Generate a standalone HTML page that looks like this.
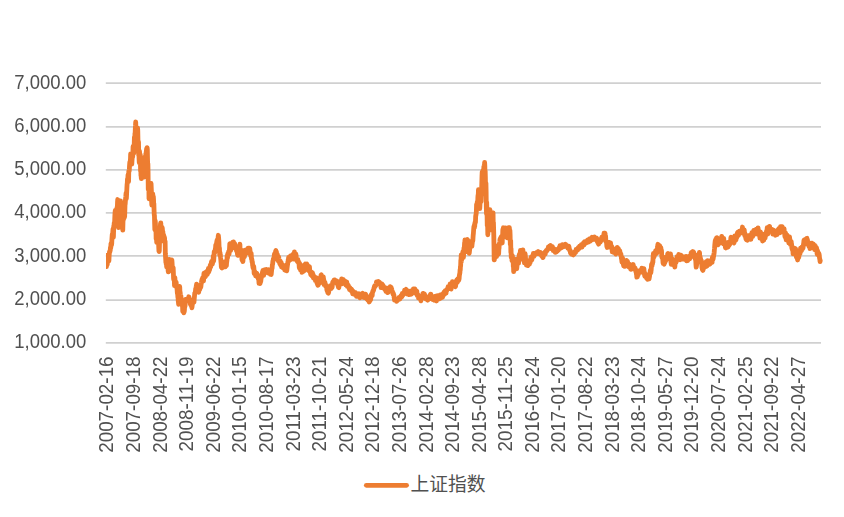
<!DOCTYPE html>
<html lang="zh"><head><meta charset="utf-8"><title>上证指数</title>
<style>html,body{margin:0;padding:0;background:#fff;}body{width:844px;height:517px;overflow:hidden;font-family:"Liberation Sans",sans-serif;}svg{display:block;}text{font-family:"Liberation Sans",sans-serif;}</style></head><body>
<svg width="844" height="517" viewBox="0 0 844 517">
<rect width="844" height="517" fill="#fff"/>
<g stroke="#D0D0D0" stroke-width="1.7" fill="none">
<line x1="105.8" y1="342.95" x2="821" y2="342.95"/>
<line x1="105.8" y1="300.03" x2="821" y2="300.03"/>
<line x1="105.8" y1="255.97" x2="821" y2="255.97"/>
<line x1="105.8" y1="212.97" x2="821" y2="212.97"/>
<line x1="105.8" y1="169.90" x2="821" y2="169.90"/>
<line x1="105.8" y1="126.85" x2="821" y2="126.85"/>
<line x1="105.8" y1="83.05" x2="821" y2="83.05"/>
</g>
<g fill="#505050" font-size="19.9" text-anchor="end" style="will-change:transform">
<text transform="translate(86.2,348) scale(0.93,1)">1,000.00</text>
<text transform="translate(86.2,305) scale(0.93,1)">2,000.00</text>
<text transform="translate(86.2,262) scale(0.93,1)">3,000.00</text>
<text transform="translate(86.2,218) scale(0.93,1)">4,000.00</text>
<text transform="translate(86.2,175) scale(0.93,1)">5,000.00</text>
<text transform="translate(86.2,132) scale(0.93,1)">6,000.00</text>
<text transform="translate(86.2,89) scale(0.93,1)">7,000.00</text>
</g>
<g fill="#505050" font-size="19.9" text-anchor="end" style="will-change:transform">
<text transform="translate(113.40,356.4) rotate(-90) scale(0.948,1)">2007-02-16</text>
<text transform="translate(139.99,356.4) rotate(-90) scale(0.948,1)">2007-09-18</text>
<text transform="translate(166.58,356.4) rotate(-90) scale(0.948,1)">2008-04-22</text>
<text transform="translate(193.18,356.4) rotate(-90) scale(0.948,1)">2008-11-19</text>
<text transform="translate(219.77,356.4) rotate(-90) scale(0.948,1)">2009-06-22</text>
<text transform="translate(246.36,356.4) rotate(-90) scale(0.948,1)">2010-01-15</text>
<text transform="translate(272.95,356.4) rotate(-90) scale(0.948,1)">2010-08-17</text>
<text transform="translate(299.54,356.4) rotate(-90) scale(0.948,1)">2011-03-23</text>
<text transform="translate(326.14,356.4) rotate(-90) scale(0.948,1)">2011-10-21</text>
<text transform="translate(352.73,356.4) rotate(-90) scale(0.948,1)">2012-05-24</text>
<text transform="translate(379.32,356.4) rotate(-90) scale(0.948,1)">2012-12-18</text>
<text transform="translate(405.91,356.4) rotate(-90) scale(0.948,1)">2013-07-26</text>
<text transform="translate(432.50,356.4) rotate(-90) scale(0.948,1)">2014-02-28</text>
<text transform="translate(459.10,356.4) rotate(-90) scale(0.948,1)">2014-09-23</text>
<text transform="translate(485.69,356.4) rotate(-90) scale(0.948,1)">2015-04-28</text>
<text transform="translate(512.28,356.4) rotate(-90) scale(0.948,1)">2015-11-25</text>
<text transform="translate(538.87,356.4) rotate(-90) scale(0.948,1)">2016-06-24</text>
<text transform="translate(565.46,356.4) rotate(-90) scale(0.948,1)">2017-01-20</text>
<text transform="translate(592.06,356.4) rotate(-90) scale(0.948,1)">2017-08-22</text>
<text transform="translate(618.65,356.4) rotate(-90) scale(0.948,1)">2018-03-23</text>
<text transform="translate(645.24,356.4) rotate(-90) scale(0.948,1)">2018-10-24</text>
<text transform="translate(671.83,356.4) rotate(-90) scale(0.948,1)">2019-05-27</text>
<text transform="translate(698.42,356.4) rotate(-90) scale(0.948,1)">2019-12-20</text>
<text transform="translate(725.02,356.4) rotate(-90) scale(0.948,1)">2020-07-24</text>
<text transform="translate(751.61,356.4) rotate(-90) scale(0.948,1)">2021-02-25</text>
<text transform="translate(778.20,356.4) rotate(-90) scale(0.948,1)">2021-09-22</text>
<text transform="translate(804.79,356.4) rotate(-90) scale(0.948,1)">2022-04-27</text>
</g>
<clipPath id="pc"><rect x="105.9" y="60" width="730" height="300"/></clipPath>
<path clip-path="url(#pc)" d="M106.10,256.56 L106.29,255.42 L106.47,266.64 L106.66,261.40 L106.85,263.74 L107.04,261.77 L107.22,264.88 L107.41,262.99 L107.60,261.72 L107.79,260.43 L107.97,260.16 L108.16,259.44 L108.35,257.00 L108.54,260.86 L108.72,259.99 L108.91,260.79 L109.10,256.68 L109.29,254.09 L109.47,252.16 L109.66,251.33 L109.85,252.02 L110.04,250.42 L110.22,250.57 L110.41,248.05 L110.60,247.03 L110.78,247.80 L110.97,243.63 L111.16,244.12 L111.35,244.56 L111.53,244.97 L111.72,243.62 L111.91,239.13 L112.10,236.48 L112.28,234.25 L112.47,233.71 L112.66,234.98 L112.85,231.15 L113.03,229.08 L113.22,228.45 L113.41,237.27 L113.60,230.61 L113.78,225.96 L113.97,226.62 L114.16,223.54 L114.35,222.22 L114.53,225.81 L114.72,219.33 L114.91,214.67 L115.09,212.31 L115.28,210.48 L115.47,211.72 L115.66,210.59 L115.84,214.22 L116.03,211.43 L116.22,209.68 L116.41,211.68 L116.59,212.13 L116.78,210.96 L116.97,208.27 L117.16,206.96 L117.34,207.12 L117.53,202.23 L117.72,199.53 L117.91,210.48 L118.09,207.38 L118.28,211.80 L118.47,227.69 L118.66,222.06 L118.84,220.35 L119.03,216.58 L119.22,218.80 L119.40,217.19 L119.59,211.59 L119.78,203.12 L119.97,206.65 L120.15,204.83 L120.34,200.95 L120.53,200.95 L120.72,204.84 L120.90,202.32 L121.09,208.10 L121.28,214.83 L121.47,215.24 L121.65,210.86 L121.84,217.98 L122.03,222.44 L122.22,218.83 L122.40,217.81 L122.59,223.06 L122.78,230.08 L122.97,222.59 L123.15,217.55 L123.34,220.20 L123.53,216.74 L123.71,214.47 L123.90,216.48 L124.09,218.23 L124.28,217.37 L124.46,216.53 L124.65,216.58 L124.84,210.35 L125.03,204.33 L125.21,203.98 L125.40,200.92 L125.59,198.33 L125.78,196.97 L125.96,194.29 L126.15,192.84 L126.34,198.49 L126.53,195.71 L126.71,192.00 L126.90,187.93 L127.09,184.28 L127.28,183.35 L127.46,179.01 L127.65,178.88 L127.84,179.09 L128.02,174.83 L128.21,177.28 L128.40,178.76 L128.59,181.50 L128.77,171.38 L128.96,171.16 L129.15,171.35 L129.34,169.48 L129.52,165.82 L129.71,163.40 L129.90,161.84 L130.09,164.31 L130.27,161.35 L130.46,159.35 L130.65,153.91 L130.84,155.98 L131.02,155.84 L131.21,155.91 L131.40,160.78 L131.59,155.67 L131.77,164.14 L131.96,161.08 L132.15,158.64 L132.33,156.42 L132.52,152.82 L132.71,157.01 L132.90,152.43 L133.08,146.50 L133.27,147.86 L133.46,147.57 L133.65,150.43 L133.83,153.23 L134.02,151.24 L134.21,145.05 L134.40,137.13 L134.58,141.62 L134.77,140.30 L134.96,133.06 L135.15,133.38 L135.33,127.84 L135.52,125.40 L135.71,121.98 L135.90,130.08 L136.08,133.03 L136.27,137.23 L136.46,132.91 L136.64,132.81 L136.83,145.74 L137.02,145.74 L137.21,138.09 L137.39,130.55 L137.58,127.96 L137.77,130.78 L137.96,140.09 L138.14,140.66 L138.33,147.83 L138.52,141.83 L138.71,155.37 L138.89,152.73 L139.08,159.05 L139.27,162.74 L139.46,151.06 L139.64,152.70 L139.83,156.02 L140.02,156.87 L140.20,154.40 L140.39,160.13 L140.58,171.26 L140.77,167.47 L140.95,175.48 L141.14,176.17 L141.33,178.62 L141.52,169.59 L141.70,175.47 L141.89,176.78 L142.08,175.64 L142.27,171.99 L142.45,169.86 L142.64,164.74 L142.83,163.51 L143.02,161.70 L143.20,162.86 L143.39,166.38 L143.58,167.50 L143.77,174.91 L143.95,177.19 L144.14,173.10 L144.33,168.12 L144.51,162.04 L144.70,157.10 L144.89,161.83 L145.08,158.21 L145.26,158.07 L145.45,162.03 L145.64,160.55 L145.83,153.49 L146.01,154.36 L146.20,152.25 L146.39,150.75 L146.58,149.02 L146.76,148.19 L146.95,149.23 L147.14,147.75 L147.33,149.45 L147.51,158.33 L147.70,166.46 L147.89,163.55 L148.08,172.55 L148.26,189.40 L148.45,183.09 L148.64,183.03 L148.82,184.45 L149.01,198.75 L149.20,193.02 L149.39,194.48 L149.57,192.79 L149.76,197.42 L149.95,183.04 L150.14,185.34 L150.32,189.82 L150.51,188.14 L150.70,189.49 L150.89,188.03 L151.07,183.49 L151.26,188.11 L151.45,192.11 L151.64,201.73 L151.82,205.08 L152.01,205.08 L152.20,200.11 L152.39,199.95 L152.57,194.76 L152.76,193.82 L152.95,196.81 L153.13,199.31 L153.32,196.33 L153.51,198.95 L153.70,204.18 L153.88,203.54 L154.07,210.63 L154.26,214.86 L154.45,215.83 L154.63,223.52 L154.82,229.62 L155.01,223.44 L155.20,220.65 L155.38,222.72 L155.57,227.42 L155.76,226.42 L155.95,229.19 L156.13,239.06 L156.32,232.03 L156.51,238.14 L156.70,242.46 L156.88,242.28 L157.07,236.10 L157.26,229.41 L157.44,230.81 L157.63,239.52 L157.82,236.66 L158.01,235.73 L158.19,242.84 L158.38,241.26 L158.57,243.26 L158.76,247.77 L158.94,251.03 L159.13,251.58 L159.32,250.38 L159.51,242.99 L159.69,231.76 L159.88,233.39 L160.07,234.11 L160.26,231.09 L160.44,224.38 L160.63,222.95 L160.82,222.95 L161.01,230.51 L161.19,227.94 L161.38,229.80 L161.57,230.65 L161.75,233.83 L161.94,229.88 L162.13,227.46 L162.32,228.45 L162.50,231.00 L162.69,237.02 L162.88,231.66 L163.07,236.84 L163.25,233.90 L163.44,238.68 L163.63,240.95 L163.82,235.39 L164.00,238.24 L164.19,239.20 L164.38,237.21 L164.57,238.29 L164.75,242.07 L164.94,241.04 L165.13,241.60 L165.32,253.17 L165.50,256.21 L165.69,259.00 L165.88,262.74 L166.06,261.38 L166.25,264.26 L166.44,258.70 L166.63,266.96 L166.81,262.37 L167.00,264.44 L167.19,265.54 L167.38,262.12 L167.56,262.69 L167.75,265.80 L167.94,266.56 L168.13,270.45 L168.31,271.83 L168.50,270.30 L168.69,271.71 L168.88,266.65 L169.06,262.82 L169.25,259.38 L169.44,261.41 L169.63,261.32 L169.81,261.91 L170.00,268.35 L170.19,269.78 L170.37,269.72 L170.56,265.70 L170.75,262.08 L170.94,262.31 L171.12,261.59 L171.31,260.83 L171.50,263.57 L171.69,259.92 L171.87,260.17 L172.06,262.38 L172.25,265.88 L172.44,266.90 L172.62,270.50 L172.81,271.55 L173.00,270.45 L173.19,267.62 L173.37,272.17 L173.56,278.24 L173.75,279.59 L173.94,279.44 L174.12,279.88 L174.31,279.70 L174.50,285.61 L174.68,285.07 L174.87,277.58 L175.06,281.15 L175.25,283.02 L175.43,282.70 L175.62,284.58 L175.81,284.34 L176.00,284.07 L176.18,282.08 L176.37,285.56 L176.56,286.57 L176.75,287.95 L176.93,287.72 L177.12,289.69 L177.31,292.66 L177.50,293.70 L177.68,294.04 L177.87,297.20 L178.06,297.72 L178.25,301.01 L178.43,302.26 L178.62,304.31 L178.81,296.18 L178.99,290.43 L179.18,291.58 L179.37,289.11 L179.56,286.37 L179.74,287.17 L179.93,292.32 L180.12,292.00 L180.31,294.25 L180.49,295.39 L180.68,298.83 L180.87,295.54 L181.06,298.93 L181.24,299.99 L181.43,303.17 L181.62,302.31 L181.81,301.33 L181.99,302.40 L182.18,305.55 L182.37,305.16 L182.56,306.16 L182.74,311.41 L182.93,308.67 L183.12,311.31 L183.30,309.49 L183.49,311.26 L183.68,310.89 L183.87,312.77 L184.05,310.78 L184.24,311.86 L184.43,310.05 L184.62,306.12 L184.80,306.69 L184.99,306.27 L185.18,304.45 L185.37,302.38 L185.55,299.51 L185.74,300.88 L185.93,299.37 L186.12,300.49 L186.30,300.94 L186.49,300.32 L186.68,300.60 L186.87,300.58 L187.05,300.25 L187.24,299.88 L187.43,299.39 L187.61,300.14 L187.80,299.00 L187.99,298.55 L188.18,298.87 L188.36,297.88 L188.55,298.28 L188.74,296.79 L188.93,297.04 L189.11,298.59 L189.30,300.06 L189.49,300.45 L189.68,300.68 L189.86,299.25 L190.05,301.93 L190.24,302.91 L190.43,304.54 L190.61,303.98 L190.80,304.25 L190.99,302.34 L191.18,303.94 L191.36,305.96 L191.55,304.85 L191.74,305.90 L191.92,307.81 L192.11,306.24 L192.30,304.65 L192.49,303.98 L192.67,303.55 L192.86,302.03 L193.05,301.90 L193.24,301.30 L193.42,301.02 L193.61,300.86 L193.80,301.77 L193.99,302.15 L194.17,299.38 L194.36,297.60 L194.55,295.33 L194.74,293.25 L194.92,292.80 L195.11,292.71 L195.30,293.17 L195.49,290.72 L195.67,288.70 L195.86,288.14 L196.05,287.28 L196.23,286.28 L196.42,285.78 L196.61,284.09 L196.80,284.74 L196.98,286.64 L197.17,287.88 L197.36,288.42 L197.55,289.65 L197.73,287.12 L197.92,287.38 L198.11,289.14 L198.30,288.77 L198.48,290.63 L198.67,292.31 L198.86,290.39 L199.05,289.77 L199.23,289.10 L199.42,289.32 L199.61,289.70 L199.80,289.15 L199.98,287.36 L200.17,286.71 L200.36,286.18 L200.54,286.98 L200.73,287.38 L200.92,286.30 L201.11,284.24 L201.29,283.58 L201.48,282.29 L201.67,280.66 L201.86,280.37 L202.04,279.45 L202.23,279.09 L202.42,279.31 L202.61,277.84 L202.79,280.76 L202.98,279.69 L203.17,280.74 L203.36,280.19 L203.54,280.94 L203.73,276.08 L203.92,273.92 L204.10,273.17 L204.29,273.01 L204.48,275.58 L204.67,275.34 L204.85,276.24 L205.04,276.37 L205.23,276.65 L205.42,276.47 L205.60,275.52 L205.79,275.37 L205.98,272.87 L206.17,274.15 L206.35,271.82 L206.54,271.62 L206.73,274.58 L206.92,273.75 L207.10,273.06 L207.29,274.33 L207.48,273.61 L207.67,271.18 L207.85,270.57 L208.04,270.46 L208.23,270.53 L208.41,268.36 L208.60,270.21 L208.79,271.92 L208.98,270.78 L209.16,270.23 L209.35,268.71 L209.54,270.10 L209.73,267.93 L209.91,268.39 L210.10,266.96 L210.29,265.08 L210.48,265.46 L210.66,267.09 L210.85,266.03 L211.04,263.72 L211.23,264.02 L211.41,262.33 L211.60,261.39 L211.79,262.69 L211.98,263.42 L212.16,261.07 L212.35,264.21 L212.54,262.92 L212.72,262.88 L212.91,260.68 L213.10,260.01 L213.29,256.20 L213.47,258.91 L213.66,260.96 L213.85,258.33 L214.04,255.06 L214.22,251.55 L214.41,253.28 L214.60,252.18 L214.79,252.35 L214.97,251.84 L215.16,251.39 L215.35,248.64 L215.54,248.35 L215.72,245.20 L215.91,244.76 L216.10,245.12 L216.29,245.81 L216.47,244.73 L216.66,242.28 L216.85,241.84 L217.03,240.18 L217.22,243.03 L217.41,244.39 L217.60,243.81 L217.78,242.20 L217.97,240.01 L218.16,236.81 L218.35,235.28 L218.53,236.97 L218.72,239.24 L218.91,241.86 L219.10,247.57 L219.28,247.30 L219.47,248.43 L219.66,255.04 L219.85,252.58 L220.03,252.79 L220.22,254.45 L220.41,255.83 L220.60,258.00 L220.78,259.59 L220.97,261.96 L221.16,263.83 L221.34,267.16 L221.53,265.70 L221.72,266.21 L221.91,268.06 L222.09,266.33 L222.28,264.53 L222.47,265.65 L222.66,264.29 L222.84,265.24 L223.03,266.39 L223.22,266.55 L223.41,266.99 L223.59,266.46 L223.78,263.40 L223.97,263.02 L224.16,263.51 L224.34,262.00 L224.53,262.02 L224.72,263.77 L224.91,262.43 L225.09,263.52 L225.28,266.78 L225.47,265.56 L225.65,265.67 L225.84,265.03 L226.03,265.98 L226.22,265.19 L226.40,265.52 L226.59,262.77 L226.78,261.52 L226.97,260.14 L227.15,255.76 L227.34,257.32 L227.53,257.99 L227.72,253.84 L227.90,254.93 L228.09,254.09 L228.28,254.15 L228.47,254.49 L228.65,251.62 L228.84,251.15 L229.03,254.09 L229.22,252.66 L229.40,250.35 L229.59,247.37 L229.78,243.98 L229.96,243.73 L230.15,246.60 L230.34,246.95 L230.53,246.71 L230.71,250.43 L230.90,248.57 L231.09,246.40 L231.28,246.94 L231.46,247.85 L231.65,245.65 L231.84,243.63 L232.03,244.43 L232.21,245.04 L232.40,242.56 L232.59,242.75 L232.78,242.09 L232.96,243.02 L233.15,242.88 L233.34,242.69 L233.53,241.86 L233.71,243.86 L233.90,246.32 L234.09,244.96 L234.27,246.15 L234.46,244.04 L234.65,243.53 L234.84,244.89 L235.02,248.06 L235.21,247.41 L235.40,247.48 L235.59,248.68 L235.77,246.82 L235.96,248.16 L236.15,248.34 L236.34,250.65 L236.52,249.78 L236.71,247.34 L236.90,248.73 L237.09,250.47 L237.27,250.78 L237.46,254.05 L237.65,254.88 L237.84,254.57 L238.02,255.42 L238.21,251.82 L238.40,249.93 L238.58,249.42 L238.77,250.28 L238.96,249.17 L239.15,248.66 L239.33,246.05 L239.52,245.22 L239.71,247.11 L239.90,244.21 L240.08,249.76 L240.27,249.68 L240.46,250.70 L240.65,251.95 L240.83,255.04 L241.02,253.15 L241.21,250.04 L241.40,251.99 L241.58,254.12 L241.77,255.89 L241.96,259.88 L242.15,259.12 L242.33,258.15 L242.52,259.14 L242.71,259.08 L242.89,261.62 L243.08,259.00 L243.27,257.66 L243.46,250.54 L243.64,251.69 L243.83,250.73 L244.02,252.69 L244.21,256.91 L244.39,256.82 L244.58,255.65 L244.77,254.13 L244.96,251.91 L245.14,250.16 L245.33,251.38 L245.52,251.45 L245.71,251.42 L245.89,250.86 L246.08,252.48 L246.27,252.91 L246.46,252.13 L246.64,253.09 L246.83,252.29 L247.02,249.44 L247.20,252.12 L247.39,252.68 L247.58,250.36 L247.77,251.99 L247.95,252.12 L248.14,248.24 L248.33,251.08 L248.52,251.33 L248.70,252.50 L248.89,252.56 L249.08,251.93 L249.27,248.24 L249.45,249.70 L249.64,249.42 L249.83,248.68 L250.02,250.41 L250.20,252.13 L250.39,254.60 L250.58,254.97 L250.77,256.07 L250.95,253.15 L251.14,253.31 L251.33,255.60 L251.51,259.08 L251.70,259.06 L251.89,259.50 L252.08,262.14 L252.26,261.37 L252.45,262.58 L252.64,265.68 L252.83,265.79 L253.01,267.79 L253.20,266.28 L253.39,266.43 L253.58,266.31 L253.76,266.71 L253.95,269.01 L254.14,273.52 L254.33,272.67 L254.51,272.06 L254.70,273.16 L254.89,271.71 L255.08,272.61 L255.26,274.22 L255.45,274.43 L255.64,275.95 L255.82,274.25 L256.01,275.97 L256.20,274.09 L256.39,273.70 L256.57,273.42 L256.76,273.25 L256.95,274.81 L257.14,275.21 L257.32,274.49 L257.51,275.09 L257.70,277.35 L257.89,277.04 L258.07,277.11 L258.26,278.75 L258.45,278.90 L258.64,276.80 L258.82,280.29 L259.01,283.24 L259.20,280.27 L259.39,280.39 L259.57,281.17 L259.76,282.43 L259.95,283.70 L260.13,283.22 L260.32,281.07 L260.51,280.76 L260.70,281.83 L260.88,280.13 L261.07,278.53 L261.26,278.40 L261.45,275.54 L261.63,275.12 L261.82,274.58 L262.01,275.25 L262.20,274.15 L262.38,272.69 L262.57,271.77 L262.76,271.51 L262.95,270.42 L263.13,270.41 L263.32,271.68 L263.51,273.19 L263.69,275.46 L263.88,274.23 L264.07,273.37 L264.26,269.81 L264.44,272.39 L264.63,271.48 L264.82,271.97 L265.01,273.08 L265.19,271.41 L265.38,272.17 L265.57,272.39 L265.76,270.03 L265.94,270.51 L266.13,272.25 L266.32,269.43 L266.51,270.39 L266.69,270.40 L266.88,270.61 L267.07,270.72 L267.26,272.27 L267.44,271.49 L267.63,272.12 L267.82,270.93 L268.00,271.40 L268.19,269.94 L268.38,269.82 L268.57,272.33 L268.75,273.05 L268.94,272.84 L269.13,271.29 L269.32,270.14 L269.50,270.17 L269.69,271.47 L269.88,272.20 L270.07,272.93 L270.25,272.74 L270.44,274.37 L270.63,273.74 L270.82,273.04 L271.00,274.26 L271.19,274.39 L271.38,272.75 L271.57,270.73 L271.75,269.08 L271.94,268.72 L272.13,268.01 L272.31,265.09 L272.50,264.55 L272.69,263.47 L272.88,260.95 L273.06,261.28 L273.25,260.02 L273.44,258.63 L273.63,258.70 L273.81,259.67 L274.00,257.26 L274.19,256.77 L274.38,254.08 L274.56,256.02 L274.75,254.03 L274.94,254.96 L275.13,252.80 L275.31,253.04 L275.50,255.54 L275.69,250.99 L275.88,250.47 L276.06,251.89 L276.25,252.12 L276.44,251.81 L276.62,256.13 L276.81,256.87 L277.00,254.81 L277.19,256.58 L277.37,254.29 L277.56,256.59 L277.75,256.74 L277.94,257.85 L278.12,260.22 L278.31,260.99 L278.50,259.10 L278.69,256.85 L278.87,258.82 L279.06,260.43 L279.25,259.91 L279.44,261.80 L279.62,262.85 L279.81,263.77 L280.00,260.85 L280.19,260.94 L280.37,262.63 L280.56,263.84 L280.75,265.45 L280.93,262.27 L281.12,262.53 L281.31,263.10 L281.50,266.86 L281.68,265.44 L281.87,265.15 L282.06,265.04 L282.25,266.26 L282.43,265.59 L282.62,267.64 L282.81,266.99 L283.00,267.67 L283.18,267.17 L283.37,267.85 L283.56,267.22 L283.75,265.33 L283.93,267.30 L284.12,268.19 L284.31,267.72 L284.50,268.28 L284.68,269.90 L284.87,268.66 L285.06,268.61 L285.24,269.47 L285.43,270.23 L285.62,269.85 L285.81,267.07 L285.99,268.92 L286.18,269.61 L286.37,270.02 L286.56,270.16 L286.74,270.84 L286.93,269.62 L287.12,267.62 L287.31,266.23 L287.49,264.95 L287.68,263.75 L287.87,261.72 L288.06,262.10 L288.24,259.42 L288.43,259.69 L288.62,257.43 L288.81,257.94 L288.99,260.10 L289.18,260.65 L289.37,259.56 L289.55,259.82 L289.74,260.08 L289.93,257.40 L290.12,256.54 L290.30,256.75 L290.49,255.81 L290.68,255.76 L290.87,256.75 L291.05,257.58 L291.24,258.59 L291.43,259.16 L291.62,258.54 L291.80,258.40 L291.99,257.98 L292.18,257.74 L292.37,257.83 L292.55,255.53 L292.74,255.38 L292.93,255.41 L293.12,254.29 L293.30,254.64 L293.49,256.07 L293.68,256.05 L293.86,259.12 L294.05,255.20 L294.24,254.89 L294.43,251.95 L294.61,253.54 L294.80,257.66 L294.99,254.29 L295.18,254.56 L295.36,255.37 L295.55,255.20 L295.74,256.74 L295.93,254.19 L296.11,256.20 L296.30,257.44 L296.49,258.28 L296.68,258.45 L296.86,260.58 L297.05,260.52 L297.24,261.52 L297.43,261.59 L297.61,259.05 L297.80,259.69 L297.99,260.74 L298.17,262.37 L298.36,261.34 L298.55,261.62 L298.74,262.82 L298.92,263.20 L299.11,265.00 L299.30,267.87 L299.49,266.29 L299.67,263.33 L299.86,264.55 L300.05,266.56 L300.24,267.98 L300.42,269.74 L300.61,269.45 L300.80,268.46 L300.99,269.62 L301.17,268.51 L301.36,266.35 L301.55,265.43 L301.74,269.41 L301.92,272.32 L302.11,271.71 L302.30,271.07 L302.48,271.37 L302.67,270.26 L302.86,271.63 L303.05,271.22 L303.23,269.36 L303.42,270.70 L303.61,269.52 L303.80,269.60 L303.98,269.81 L304.17,269.75 L304.36,270.56 L304.55,270.09 L304.73,267.96 L304.92,265.54 L305.11,264.45 L305.30,264.15 L305.48,265.04 L305.67,266.22 L305.86,267.91 L306.05,268.62 L306.23,267.79 L306.42,266.99 L306.61,264.18 L306.79,264.07 L306.98,264.96 L307.17,265.84 L307.36,265.60 L307.54,265.16 L307.73,266.19 L307.92,266.07 L308.11,267.10 L308.29,268.08 L308.48,268.61 L308.67,270.48 L308.86,269.57 L309.04,268.97 L309.23,267.77 L309.42,266.52 L309.61,268.48 L309.79,270.73 L309.98,270.65 L310.17,271.36 L310.36,272.74 L310.54,273.32 L310.73,274.58 L310.92,272.79 L311.10,271.90 L311.29,272.65 L311.48,274.99 L311.67,275.42 L311.85,274.79 L312.04,274.68 L312.23,273.83 L312.42,272.62 L312.60,274.70 L312.79,274.03 L312.98,274.08 L313.17,276.71 L313.35,277.89 L313.54,277.60 L313.73,276.21 L313.92,276.03 L314.10,277.46 L314.29,277.79 L314.48,278.93 L314.67,278.77 L314.85,279.09 L315.04,278.50 L315.23,278.98 L315.41,280.69 L315.60,278.94 L315.79,278.73 L315.98,278.90 L316.16,277.97 L316.35,277.70 L316.54,279.02 L316.73,281.69 L316.91,282.60 L317.10,283.29 L317.29,281.58 L317.48,284.29 L317.66,284.78 L317.85,285.31 L318.04,284.57 L318.23,285.00 L318.41,283.16 L318.60,282.79 L318.79,283.00 L318.98,282.88 L319.16,282.96 L319.35,281.71 L319.54,283.32 L319.72,282.36 L319.91,279.94 L320.10,279.72 L320.29,278.82 L320.47,277.32 L320.66,276.76 L320.85,276.97 L321.04,275.03 L321.22,274.88 L321.41,276.91 L321.60,277.75 L321.79,277.47 L321.97,277.87 L322.16,277.81 L322.35,277.94 L322.54,279.18 L322.72,279.49 L322.91,276.75 L323.10,277.15 L323.29,276.80 L323.47,278.57 L323.66,278.95 L323.85,280.57 L324.03,284.68 L324.22,284.66 L324.41,284.52 L324.60,284.32 L324.78,283.01 L324.97,282.31 L325.16,284.68 L325.35,285.74 L325.53,285.16 L325.72,284.76 L325.91,286.37 L326.10,285.77 L326.28,285.67 L326.47,286.30 L326.66,287.75 L326.85,289.56 L327.03,290.40 L327.22,290.08 L327.41,289.74 L327.59,291.30 L327.78,292.61 L327.97,292.27 L328.16,292.97 L328.34,293.12 L328.53,292.73 L328.72,291.85 L328.91,290.28 L329.09,289.45 L329.28,287.39 L329.47,288.77 L329.66,289.17 L329.84,287.40 L330.03,288.31 L330.22,288.70 L330.41,285.59 L330.59,286.97 L330.78,287.17 L330.97,288.71 L331.16,286.39 L331.34,286.41 L331.53,286.23 L331.72,286.15 L331.90,286.20 L332.09,287.58 L332.28,285.78 L332.47,284.30 L332.65,282.67 L332.84,282.14 L333.03,281.62 L333.22,282.26 L333.40,282.55 L333.59,282.40 L333.78,281.30 L333.97,280.24 L334.15,280.85 L334.34,281.21 L334.53,280.67 L334.72,279.92 L334.90,281.39 L335.09,280.38 L335.28,280.83 L335.47,281.94 L335.65,281.56 L335.84,282.35 L336.03,281.14 L336.21,282.20 L336.40,282.46 L336.59,280.80 L336.78,282.10 L336.96,281.75 L337.15,283.73 L337.34,283.65 L337.53,284.11 L337.71,284.90 L337.90,285.06 L338.09,286.05 L338.28,286.17 L338.46,287.53 L338.65,287.58 L338.84,287.68 L339.03,284.54 L339.21,285.50 L339.40,285.31 L339.59,283.08 L339.78,282.89 L339.96,282.88 L340.15,283.26 L340.34,281.37 L340.52,282.36 L340.71,281.44 L340.90,283.21 L341.09,282.16 L341.27,281.97 L341.46,280.58 L341.65,278.90 L341.84,279.81 L342.02,280.82 L342.21,282.59 L342.40,283.75 L342.59,283.23 L342.77,281.36 L342.96,280.75 L343.15,280.19 L343.34,279.64 L343.52,280.70 L343.71,281.34 L343.90,281.06 L344.09,281.28 L344.27,281.22 L344.46,281.44 L344.65,282.32 L344.83,283.34 L345.02,282.70 L345.21,281.22 L345.40,282.92 L345.58,283.36 L345.77,284.99 L345.96,283.66 L346.15,283.58 L346.33,283.59 L346.52,282.24 L346.71,282.04 L346.90,283.23 L347.08,284.54 L347.27,286.39 L347.46,285.82 L347.65,284.47 L347.83,285.04 L348.02,286.07 L348.21,286.46 L348.40,285.40 L348.58,286.37 L348.77,287.27 L348.96,288.13 L349.14,287.98 L349.33,288.62 L349.52,289.63 L349.71,289.25 L349.89,287.68 L350.08,288.40 L350.27,289.14 L350.46,289.37 L350.64,290.41 L350.83,289.93 L351.02,289.61 L351.21,288.95 L351.39,289.14 L351.58,290.31 L351.77,289.55 L351.96,291.06 L352.14,292.04 L352.33,292.36 L352.52,292.48 L352.71,293.79 L352.89,293.10 L353.08,292.61 L353.27,291.31 L353.45,291.58 L353.64,292.89 L353.83,293.46 L354.02,293.94 L354.20,293.90 L354.39,294.20 L354.58,293.05 L354.77,294.36 L354.95,294.20 L355.14,293.53 L355.33,293.10 L355.52,292.54 L355.70,293.53 L355.89,294.94 L356.08,294.04 L356.27,295.30 L356.45,296.43 L356.64,296.11 L356.83,295.17 L357.02,294.96 L357.20,294.83 L357.39,295.64 L357.58,295.97 L357.76,294.70 L357.95,295.55 L358.14,294.68 L358.33,295.98 L358.51,295.22 L358.70,294.87 L358.89,294.16 L359.08,293.90 L359.26,295.30 L359.45,296.41 L359.64,297.25 L359.83,297.73 L360.01,296.42 L360.20,296.10 L360.39,295.96 L360.58,295.66 L360.76,296.73 L360.95,296.46 L361.14,296.06 L361.33,295.39 L361.51,293.94 L361.70,294.91 L361.89,296.52 L362.07,296.95 L362.26,296.13 L362.45,293.45 L362.64,293.23 L362.82,294.10 L363.01,294.12 L363.20,294.69 L363.39,295.83 L363.57,296.44 L363.76,295.85 L363.95,296.82 L364.14,297.51 L364.32,296.16 L364.51,296.20 L364.70,295.26 L364.89,295.50 L365.07,296.35 L365.26,295.82 L365.45,294.14 L365.64,295.41 L365.82,295.52 L366.01,296.67 L366.20,295.22 L366.38,295.93 L366.57,297.39 L366.76,298.91 L366.95,298.38 L367.13,298.54 L367.32,298.14 L367.51,298.93 L367.70,299.87 L367.88,300.08 L368.07,298.83 L368.26,299.42 L368.45,298.94 L368.63,299.51 L368.82,299.68 L369.01,301.13 L369.20,301.99 L369.38,301.40 L369.57,300.63 L369.76,301.06 L369.95,299.55 L370.13,299.15 L370.32,299.52 L370.51,299.89 L370.69,299.41 L370.88,297.43 L371.07,295.34 L371.26,294.63 L371.44,294.30 L371.63,296.23 L371.82,294.93 L372.01,295.48 L372.19,295.59 L372.38,293.31 L372.57,291.98 L372.76,291.80 L372.94,290.94 L373.13,290.58 L373.32,290.86 L373.51,289.76 L373.69,289.85 L373.88,288.69 L374.07,287.56 L374.26,287.54 L374.44,286.35 L374.63,286.01 L374.82,286.99 L375.00,286.38 L375.19,285.49 L375.38,285.88 L375.57,285.14 L375.75,285.80 L375.94,284.17 L376.13,284.40 L376.32,283.35 L376.50,281.91 L376.69,283.29 L376.88,281.84 L377.07,282.94 L377.25,282.93 L377.44,283.74 L377.63,281.58 L377.82,281.95 L378.00,282.57 L378.19,281.89 L378.38,281.44 L378.57,283.92 L378.75,283.80 L378.94,282.97 L379.13,282.09 L379.31,282.33 L379.50,282.29 L379.69,282.42 L379.88,284.13 L380.06,283.41 L380.25,283.63 L380.44,285.05 L380.63,283.96 L380.81,285.27 L381.00,287.53 L381.19,286.56 L381.38,285.85 L381.56,285.22 L381.75,283.79 L381.94,284.93 L382.13,283.98 L382.31,285.32 L382.50,287.63 L382.69,286.63 L382.88,286.82 L383.06,285.32 L383.25,286.50 L383.44,286.14 L383.62,286.46 L383.81,286.96 L384.00,288.07 L384.19,288.10 L384.37,288.75 L384.56,288.80 L384.75,289.33 L384.94,288.54 L385.12,289.18 L385.31,287.73 L385.50,287.85 L385.69,290.51 L385.87,291.37 L386.06,290.71 L386.25,291.55 L386.44,290.99 L386.62,289.79 L386.81,289.78 L387.00,291.12 L387.18,291.98 L387.37,292.46 L387.56,291.79 L387.75,290.88 L387.93,292.09 L388.12,292.37 L388.31,291.50 L388.50,289.44 L388.68,288.04 L388.87,290.45 L389.06,289.44 L389.25,289.65 L389.43,289.90 L389.62,289.66 L389.81,289.09 L390.00,287.78 L390.18,286.71 L390.37,288.43 L390.56,287.56 L390.75,288.59 L390.93,287.37 L391.12,287.47 L391.31,288.08 L391.49,289.60 L391.68,288.92 L391.87,290.15 L392.06,291.00 L392.24,290.94 L392.43,292.14 L392.62,292.19 L392.81,292.75 L392.99,294.18 L393.18,292.94 L393.37,294.21 L393.56,294.56 L393.74,294.50 L393.93,295.47 L394.12,297.41 L394.31,297.99 L394.49,300.02 L394.68,299.48 L394.87,298.17 L395.06,299.40 L395.24,299.60 L395.43,300.25 L395.62,299.31 L395.80,299.80 L395.99,299.76 L396.18,300.34 L396.37,300.28 L396.55,301.43 L396.74,300.92 L396.93,300.26 L397.12,299.20 L397.30,300.69 L397.49,300.48 L397.68,299.96 L397.87,299.51 L398.05,299.51 L398.24,298.64 L398.43,298.79 L398.62,298.56 L398.80,298.30 L398.99,297.55 L399.18,297.87 L399.37,297.66 L399.55,298.03 L399.74,298.41 L399.93,298.97 L400.11,297.14 L400.30,296.89 L400.49,296.39 L400.68,297.29 L400.86,296.04 L401.05,295.56 L401.24,295.40 L401.43,295.32 L401.61,296.32 L401.80,295.99 L401.99,296.82 L402.18,295.27 L402.36,293.31 L402.55,294.32 L402.74,294.48 L402.93,294.67 L403.11,294.50 L403.30,294.55 L403.49,292.95 L403.68,293.69 L403.86,292.92 L404.05,293.70 L404.24,293.64 L404.42,291.57 L404.61,290.10 L404.80,291.16 L404.99,290.90 L405.17,290.47 L405.36,290.92 L405.55,290.58 L405.74,289.84 L405.92,289.68 L406.11,289.40 L406.30,290.35 L406.49,289.85 L406.67,291.12 L406.86,292.27 L407.05,293.41 L407.24,293.92 L407.42,293.71 L407.61,293.35 L407.80,292.85 L407.99,291.96 L408.17,292.06 L408.36,291.70 L408.55,293.62 L408.73,294.56 L408.92,294.63 L409.11,293.40 L409.30,293.94 L409.48,294.07 L409.67,293.46 L409.86,292.85 L410.05,291.14 L410.23,291.88 L410.42,291.98 L410.61,294.37 L410.80,294.02 L410.98,293.51 L411.17,294.22 L411.36,293.61 L411.55,292.88 L411.73,291.87 L411.92,290.62 L412.11,291.52 L412.30,291.97 L412.48,293.27 L412.67,292.49 L412.86,291.95 L413.04,290.31 L413.23,290.74 L413.42,288.79 L413.61,289.04 L413.79,289.86 L413.98,291.31 L414.17,290.43 L414.36,291.54 L414.54,290.76 L414.73,290.06 L414.92,288.92 L415.11,290.17 L415.29,291.74 L415.48,291.21 L415.67,290.61 L415.86,290.43 L416.04,292.85 L416.23,293.71 L416.42,293.20 L416.61,291.49 L416.79,291.12 L416.98,292.73 L417.17,295.12 L417.35,295.61 L417.54,295.56 L417.73,295.67 L417.92,294.53 L418.10,296.13 L418.29,296.06 L418.48,297.93 L418.67,297.13 L418.85,296.72 L419.04,297.32 L419.23,296.95 L419.42,298.08 L419.60,298.43 L419.79,297.50 L419.98,298.06 L420.17,299.00 L420.35,297.40 L420.54,299.34 L420.73,299.96 L420.92,300.80 L421.10,298.92 L421.29,298.32 L421.48,297.92 L421.66,298.98 L421.85,297.86 L422.04,297.39 L422.23,295.63 L422.41,295.36 L422.60,295.56 L422.79,293.94 L422.98,293.34 L423.16,293.80 L423.35,295.19 L423.54,295.78 L423.73,295.96 L423.91,295.00 L424.10,294.20 L424.29,293.81 L424.48,294.19 L424.66,294.37 L424.85,296.14 L425.04,296.55 L425.23,295.76 L425.41,297.47 L425.60,298.55 L425.79,298.90 L425.97,298.73 L426.16,297.47 L426.35,296.83 L426.54,298.06 L426.72,297.73 L426.91,296.81 L427.10,297.30 L427.29,297.60 L427.47,298.23 L427.66,298.91 L427.85,300.21 L428.04,299.03 L428.22,299.35 L428.41,297.87 L428.60,297.91 L428.79,297.44 L428.97,297.15 L429.16,297.51 L429.35,297.09 L429.54,297.70 L429.72,298.16 L429.91,297.95 L430.10,296.83 L430.28,295.57 L430.47,294.45 L430.66,294.17 L430.85,294.26 L431.03,297.23 L431.22,297.92 L431.41,298.75 L431.60,297.86 L431.78,297.16 L431.97,296.72 L432.16,297.22 L432.35,296.63 L432.53,298.54 L432.72,298.34 L432.91,299.55 L433.10,297.56 L433.28,297.52 L433.47,297.81 L433.66,298.21 L433.85,299.15 L434.03,299.82 L434.22,300.17 L434.41,298.63 L434.59,298.27 L434.78,296.47 L434.97,297.32 L435.16,297.74 L435.34,297.72 L435.53,296.86 L435.72,296.28 L435.91,297.92 L436.09,299.55 L436.28,299.62 L436.47,300.97 L436.66,299.55 L436.84,297.47 L437.03,296.94 L437.22,296.19 L437.41,295.70 L437.59,296.01 L437.78,298.76 L437.97,297.76 L438.16,297.49 L438.34,297.34 L438.53,296.88 L438.72,297.30 L438.90,298.90 L439.09,297.77 L439.28,298.16 L439.47,298.13 L439.65,298.66 L439.84,297.49 L440.03,296.46 L440.22,294.88 L440.40,296.08 L440.59,297.06 L440.78,298.04 L440.97,296.53 L441.15,296.70 L441.34,296.32 L441.53,295.32 L441.72,294.85 L441.90,295.90 L442.09,296.60 L442.28,296.69 L442.47,297.23 L442.65,296.60 L442.84,296.27 L443.03,295.92 L443.21,295.92 L443.40,295.27 L443.59,294.56 L443.78,293.61 L443.96,292.04 L444.15,293.39 L444.34,293.07 L444.53,292.59 L444.71,293.75 L444.90,293.92 L445.09,291.04 L445.28,290.68 L445.46,290.76 L445.65,291.92 L445.84,292.68 L446.03,293.12 L446.21,291.50 L446.40,290.27 L446.59,290.27 L446.78,290.65 L446.96,289.63 L447.15,289.44 L447.34,289.01 L447.52,288.82 L447.71,288.95 L447.90,288.39 L448.09,286.72 L448.27,287.48 L448.46,288.53 L448.65,287.91 L448.84,288.43 L449.02,288.24 L449.21,288.23 L449.40,287.97 L449.59,286.37 L449.77,285.97 L449.96,285.94 L450.15,283.84 L450.34,284.86 L450.52,286.21 L450.71,287.38 L450.90,288.87 L451.08,289.04 L451.27,287.73 L451.46,286.49 L451.65,284.90 L451.83,284.41 L452.02,284.17 L452.21,284.42 L452.40,281.73 L452.58,283.82 L452.77,285.35 L452.96,284.54 L453.15,283.87 L453.33,283.79 L453.52,284.26 L453.71,284.24 L453.90,284.41 L454.08,283.08 L454.27,284.08 L454.46,284.75 L454.65,284.51 L454.83,284.56 L455.02,285.18 L455.21,286.20 L455.39,286.70 L455.58,286.22 L455.77,284.55 L455.96,283.86 L456.14,283.41 L456.33,281.58 L456.52,280.54 L456.71,280.02 L456.89,281.03 L457.08,282.19 L457.27,282.44 L457.46,279.43 L457.64,279.91 L457.83,279.06 L458.02,278.71 L458.21,278.55 L458.39,278.99 L458.58,280.50 L458.77,280.12 L458.96,279.39 L459.14,278.72 L459.33,275.76 L459.52,274.66 L459.70,273.82 L459.89,272.85 L460.08,269.62 L460.27,270.02 L460.45,266.24 L460.64,266.18 L460.83,260.20 L461.02,260.10 L461.20,254.96 L461.39,261.69 L461.58,258.05 L461.77,259.67 L461.95,258.25 L462.14,258.14 L462.33,254.26 L462.52,253.14 L462.70,255.00 L462.89,251.90 L463.08,251.38 L463.27,254.02 L463.45,257.34 L463.64,253.99 L463.83,249.95 L464.01,247.81 L464.20,248.28 L464.39,246.37 L464.58,242.68 L464.76,243.64 L464.95,239.78 L465.14,241.80 L465.33,243.36 L465.51,243.70 L465.70,244.70 L465.89,247.57 L466.08,243.42 L466.26,242.84 L466.45,251.69 L466.64,248.77 L466.83,241.76 L467.01,240.53 L467.20,240.03 L467.39,239.49 L467.58,240.36 L467.76,242.28 L467.95,244.39 L468.14,246.33 L468.32,251.77 L468.51,248.62 L468.70,249.76 L468.89,250.92 L469.07,252.59 L469.26,253.36 L469.45,251.53 L469.64,249.64 L469.82,248.40 L470.01,246.97 L470.20,245.77 L470.39,246.42 L470.57,246.02 L470.76,243.84 L470.95,243.66 L471.14,241.36 L471.32,244.52 L471.51,244.20 L471.70,246.42 L471.89,246.28 L472.07,244.32 L472.26,242.99 L472.45,241.35 L472.63,240.13 L472.82,240.94 L473.01,237.94 L473.20,235.03 L473.38,233.59 L473.57,230.59 L473.76,228.14 L473.95,226.37 L474.13,227.62 L474.32,227.78 L474.51,224.43 L474.70,226.66 L474.88,222.94 L475.07,223.45 L475.26,221.41 L475.45,222.48 L475.63,217.06 L475.82,214.96 L476.01,215.01 L476.20,213.17 L476.38,211.03 L476.57,204.37 L476.76,205.16 L476.94,207.91 L477.13,206.93 L477.32,201.69 L477.51,204.61 L477.69,202.90 L477.88,197.21 L478.07,195.08 L478.26,195.54 L478.44,189.77 L478.63,189.77 L478.82,190.35 L479.01,192.65 L479.19,190.72 L479.38,201.44 L479.57,203.70 L479.76,208.55 L479.94,205.50 L480.13,201.33 L480.32,195.10 L480.51,197.01 L480.69,197.38 L480.88,200.55 L481.07,201.66 L481.25,196.51 L481.44,195.17 L481.63,188.82 L481.82,183.17 L482.00,176.40 L482.19,172.23 L482.38,171.58 L482.57,183.88 L482.75,185.62 L482.94,175.30 L483.13,170.30 L483.32,172.54 L483.50,171.98 L483.69,169.72 L483.88,166.73 L484.07,166.02 L484.25,165.13 L484.44,166.08 L484.63,162.36 L484.82,166.13 L485.00,174.18 L485.19,170.79 L485.38,177.46 L485.56,192.01 L485.75,186.89 L485.94,182.96 L486.13,191.78 L486.31,207.12 L486.50,213.87 L486.69,202.23 L486.88,209.50 L487.06,214.73 L487.25,225.65 L487.44,224.50 L487.63,225.20 L487.81,234.75 L488.00,225.31 L488.19,216.78 L488.38,212.22 L488.56,215.31 L488.75,220.58 L488.94,221.44 L489.13,213.81 L489.31,213.49 L489.50,213.68 L489.69,213.43 L489.87,209.61 L490.06,210.79 L490.25,223.50 L490.44,225.24 L490.62,218.38 L490.81,225.98 L491.00,226.83 L491.19,229.73 L491.37,224.52 L491.56,227.12 L491.75,228.98 L491.94,223.92 L492.12,216.89 L492.31,216.99 L492.50,216.01 L492.69,213.51 L492.87,213.52 L493.06,212.86 L493.25,225.22 L493.44,222.42 L493.62,228.58 L493.81,236.16 L494.00,247.75 L494.18,259.84 L494.37,259.88 L494.56,252.17 L494.75,247.03 L494.93,247.38 L495.12,249.64 L495.31,248.64 L495.50,252.85 L495.68,248.01 L495.87,245.86 L496.06,246.26 L496.25,247.33 L496.43,251.36 L496.62,256.50 L496.81,251.09 L497.00,254.82 L497.18,253.16 L497.37,248.15 L497.56,247.86 L497.75,250.59 L497.93,249.89 L498.12,253.65 L498.31,251.65 L498.49,254.12 L498.68,253.50 L498.87,248.85 L499.06,248.16 L499.24,244.06 L499.43,243.10 L499.62,243.62 L499.81,241.94 L499.99,239.17 L500.18,240.57 L500.37,239.87 L500.56,241.92 L500.74,238.16 L500.93,237.12 L501.12,237.12 L501.31,236.74 L501.49,240.43 L501.68,240.95 L501.87,240.38 L502.06,242.25 L502.24,242.98 L502.43,236.65 L502.62,235.47 L502.80,230.42 L502.99,228.98 L503.18,229.22 L503.37,227.76 L503.55,228.53 L503.74,231.58 L503.93,231.09 L504.12,230.40 L504.30,232.07 L504.49,233.04 L504.68,232.11 L504.87,228.97 L505.05,228.60 L505.24,227.85 L505.43,227.85 L505.62,236.73 L505.80,235.92 L505.99,234.83 L506.18,233.14 L506.37,229.10 L506.55,234.77 L506.74,233.57 L506.93,235.15 L507.11,236.40 L507.30,237.87 L507.49,237.61 L507.68,235.44 L507.86,233.65 L508.05,232.17 L508.24,231.19 L508.43,231.38 L508.61,227.67 L508.80,227.96 L508.99,230.12 L509.18,230.87 L509.36,227.67 L509.55,231.05 L509.74,230.14 L509.93,230.56 L510.11,234.65 L510.30,244.48 L510.49,244.13 L510.68,240.65 L510.86,252.35 L511.05,248.46 L511.24,257.45 L511.42,254.00 L511.61,258.28 L511.80,255.05 L511.99,260.42 L512.17,260.83 L512.36,255.77 L512.55,257.34 L512.74,261.96 L512.92,261.14 L513.11,259.25 L513.30,266.69 L513.49,265.32 L513.67,271.62 L513.86,268.11 L514.05,270.04 L514.24,265.74 L514.42,266.99 L514.61,264.26 L514.80,266.65 L514.98,268.36 L515.17,264.66 L515.36,264.16 L515.55,263.14 L515.73,262.78 L515.92,259.60 L516.11,259.71 L516.30,259.26 L516.48,268.00 L516.67,268.72 L516.86,267.64 L517.05,265.04 L517.23,260.87 L517.42,259.91 L517.61,260.50 L517.80,261.88 L517.98,261.93 L518.17,261.04 L518.36,262.35 L518.55,263.27 L518.73,259.51 L518.92,259.22 L519.11,256.67 L519.29,254.49 L519.48,255.48 L519.67,256.30 L519.86,256.73 L520.04,254.57 L520.23,253.36 L520.42,250.47 L520.61,250.85 L520.79,252.32 L520.98,256.15 L521.17,258.30 L521.36,255.60 L521.54,253.95 L521.73,251.54 L521.92,252.35 L522.11,257.19 L522.29,259.42 L522.48,254.86 L522.67,252.38 L522.86,249.86 L523.04,251.64 L523.23,252.27 L523.42,253.64 L523.60,258.00 L523.79,256.73 L523.98,255.46 L524.17,260.98 L524.35,262.90 L524.54,262.50 L524.73,259.57 L524.92,257.62 L525.10,253.67 L525.29,255.69 L525.48,257.35 L525.67,261.22 L525.85,262.22 L526.04,261.75 L526.23,260.60 L526.42,265.10 L526.60,261.82 L526.79,262.39 L526.98,262.39 L527.17,263.58 L527.35,262.53 L527.54,263.91 L527.73,265.66 L527.91,265.49 L528.10,264.62 L528.29,264.19 L528.48,261.92 L528.66,261.38 L528.85,260.72 L529.04,260.89 L529.23,262.61 L529.41,264.16 L529.60,262.38 L529.79,262.48 L529.98,262.13 L530.16,262.44 L530.35,261.53 L530.54,261.13 L530.73,259.48 L530.91,257.47 L531.10,258.05 L531.29,259.50 L531.48,259.93 L531.66,260.05 L531.85,259.92 L532.04,258.91 L532.22,256.28 L532.41,256.99 L532.60,257.00 L532.79,256.15 L532.97,254.70 L533.16,255.63 L533.35,253.33 L533.54,254.59 L533.72,254.75 L533.91,256.47 L534.10,255.56 L534.29,255.27 L534.47,254.51 L534.66,254.46 L534.85,254.12 L535.04,253.55 L535.22,254.46 L535.41,253.81 L535.60,253.38 L535.79,253.92 L535.97,253.56 L536.16,253.30 L536.35,253.65 L536.53,253.42 L536.72,252.36 L536.91,252.34 L537.10,252.21 L537.28,253.67 L537.47,252.81 L537.66,253.57 L537.85,252.66 L538.03,252.13 L538.22,251.52 L538.41,251.53 L538.60,251.94 L538.78,253.22 L538.97,252.39 L539.16,253.18 L539.35,253.63 L539.53,253.97 L539.72,253.03 L539.91,253.51 L540.10,253.03 L540.28,253.04 L540.47,252.53 L540.66,252.81 L540.84,253.58 L541.03,254.33 L541.22,254.07 L541.41,254.79 L541.59,255.81 L541.78,254.82 L541.97,255.85 L542.16,254.72 L542.34,255.17 L542.53,255.81 L542.72,257.23 L542.91,257.62 L543.09,257.28 L543.28,256.27 L543.47,254.98 L543.66,255.40 L543.84,255.15 L544.03,254.41 L544.22,254.55 L544.41,253.58 L544.59,252.89 L544.78,252.23 L544.97,253.28 L545.15,254.10 L545.34,253.58 L545.53,251.86 L545.72,251.57 L545.90,251.01 L546.09,250.79 L546.28,250.89 L546.47,250.28 L546.65,250.54 L546.84,250.83 L547.03,250.62 L547.22,249.96 L547.40,249.40 L547.59,249.76 L547.78,248.82 L547.97,248.75 L548.15,248.13 L548.34,247.04 L548.53,247.63 L548.72,247.71 L548.90,247.69 L549.09,248.47 L549.28,247.10 L549.46,246.82 L549.65,246.80 L549.84,247.15 L550.03,245.81 L550.21,245.92 L550.40,245.48 L550.59,246.06 L550.78,246.64 L550.96,247.04 L551.15,248.75 L551.34,248.80 L551.53,248.51 L551.71,248.37 L551.90,247.72 L552.09,247.93 L552.28,246.61 L552.46,246.88 L552.65,247.57 L552.84,248.86 L553.03,248.99 L553.21,250.71 L553.40,250.44 L553.59,250.56 L553.77,249.32 L553.96,249.07 L554.15,248.73 L554.34,250.40 L554.52,251.23 L554.71,250.74 L554.90,251.48 L555.09,252.25 L555.27,252.39 L555.46,252.42 L555.65,252.07 L555.84,251.46 L556.02,249.95 L556.21,249.85 L556.40,250.80 L556.59,251.85 L556.77,251.51 L556.96,250.73 L557.15,250.27 L557.34,250.67 L557.52,250.75 L557.71,250.27 L557.90,250.42 L558.08,250.00 L558.27,250.23 L558.46,249.78 L558.65,248.41 L558.83,248.29 L559.02,248.83 L559.21,247.64 L559.40,247.26 L559.58,247.60 L559.77,246.85 L559.96,245.75 L560.15,247.21 L560.33,247.65 L560.52,248.20 L560.71,247.05 L560.90,248.11 L561.08,246.40 L561.27,245.80 L561.46,246.46 L561.65,247.66 L561.83,246.83 L562.02,246.38 L562.21,246.49 L562.39,244.71 L562.58,245.13 L562.77,245.55 L562.96,244.92 L563.14,245.13 L563.33,245.57 L563.52,245.51 L563.71,245.60 L563.89,246.60 L564.08,245.84 L564.27,245.66 L564.46,244.95 L564.64,245.46 L564.83,244.78 L565.02,244.87 L565.21,244.56 L565.39,244.11 L565.58,245.03 L565.77,244.43 L565.96,245.01 L566.14,245.18 L566.33,245.92 L566.52,245.48 L566.70,246.11 L566.89,246.48 L567.08,245.87 L567.27,246.19 L567.45,246.40 L567.64,246.72 L567.83,248.28 L568.02,248.20 L568.20,247.23 L568.39,246.10 L568.58,246.12 L568.77,246.09 L568.95,246.76 L569.14,247.79 L569.33,249.57 L569.52,249.92 L569.70,250.51 L569.89,250.01 L570.08,250.47 L570.27,251.53 L570.45,252.82 L570.64,251.50 L570.83,252.42 L571.01,253.54 L571.20,254.15 L571.39,253.07 L571.58,252.97 L571.76,253.54 L571.95,253.93 L572.14,253.46 L572.33,252.96 L572.51,253.93 L572.70,253.09 L572.89,254.44 L573.08,254.80 L573.26,254.90 L573.45,253.71 L573.64,253.25 L573.83,253.72 L574.01,252.54 L574.20,254.12 L574.39,252.99 L574.58,251.92 L574.76,251.83 L574.95,252.18 L575.14,252.82 L575.32,252.65 L575.51,252.47 L575.70,252.14 L575.89,251.59 L576.07,249.44 L576.26,250.20 L576.45,250.36 L576.64,250.36 L576.82,249.82 L577.01,249.94 L577.20,249.73 L577.39,249.57 L577.57,250.28 L577.76,248.77 L577.95,248.84 L578.14,247.88 L578.32,247.47 L578.51,248.63 L578.70,247.96 L578.88,247.93 L579.07,247.55 L579.26,248.38 L579.45,247.51 L579.63,246.24 L579.82,246.73 L580.01,246.49 L580.20,246.19 L580.38,247.18 L580.57,246.37 L580.76,245.69 L580.95,245.52 L581.13,245.40 L581.32,244.64 L581.51,245.15 L581.70,246.63 L581.88,245.85 L582.07,247.01 L582.26,244.92 L582.45,245.84 L582.63,245.39 L582.82,245.43 L583.01,244.94 L583.19,244.37 L583.38,243.13 L583.57,242.81 L583.76,243.98 L583.94,244.89 L584.13,244.47 L584.32,243.83 L584.51,242.98 L584.69,241.76 L584.88,243.10 L585.07,243.49 L585.26,243.47 L585.44,242.81 L585.63,241.73 L585.82,242.50 L586.01,243.04 L586.19,242.17 L586.38,242.93 L586.57,241.83 L586.76,242.07 L586.94,241.09 L587.13,240.53 L587.32,240.57 L587.50,240.63 L587.69,241.07 L587.88,240.04 L588.07,241.07 L588.25,241.97 L588.44,241.73 L588.63,241.92 L588.82,241.00 L589.00,240.49 L589.19,239.01 L589.38,238.90 L589.57,238.90 L589.75,239.97 L589.94,240.60 L590.13,241.27 L590.32,240.74 L590.50,240.46 L590.69,240.14 L590.88,240.42 L591.07,238.92 L591.25,239.72 L591.44,238.45 L591.63,237.96 L591.81,237.82 L592.00,237.27 L592.19,238.44 L592.38,238.02 L592.56,238.97 L592.75,239.52 L592.94,238.65 L593.13,238.53 L593.31,239.36 L593.50,238.73 L593.69,238.52 L593.88,237.73 L594.06,237.48 L594.25,236.99 L594.44,236.92 L594.63,237.66 L594.81,238.84 L595.00,238.77 L595.19,238.84 L595.38,239.38 L595.56,239.00 L595.75,237.88 L595.94,238.86 L596.12,237.99 L596.31,238.67 L596.50,238.10 L596.69,239.85 L596.87,239.06 L597.06,240.15 L597.25,241.67 L597.44,241.07 L597.62,242.54 L597.81,242.34 L598.00,241.27 L598.19,242.42 L598.37,243.70 L598.56,244.15 L598.75,242.72 L598.94,242.93 L599.12,242.65 L599.31,242.24 L599.50,241.99 L599.69,240.49 L599.87,239.82 L600.06,241.08 L600.25,242.09 L600.43,241.48 L600.62,240.49 L600.81,240.35 L601.00,240.70 L601.18,240.65 L601.37,238.73 L601.56,238.00 L601.75,237.21 L601.93,237.73 L602.12,238.18 L602.31,237.91 L602.50,238.25 L602.68,236.77 L602.87,237.79 L603.06,236.77 L603.25,236.93 L603.43,237.87 L603.62,236.55 L603.81,235.38 L604.00,233.14 L604.18,233.55 L604.37,233.71 L604.56,233.65 L604.74,235.46 L604.93,233.20 L605.12,233.93 L605.31,234.99 L605.49,235.58 L605.68,237.80 L605.87,241.58 L606.06,241.64 L606.24,240.97 L606.43,241.80 L606.62,243.59 L606.81,246.20 L606.99,246.75 L607.18,247.48 L607.37,244.92 L607.56,245.15 L607.74,244.71 L607.93,244.29 L608.12,246.59 L608.31,245.21 L608.49,243.94 L608.68,244.46 L608.87,245.48 L609.05,243.09 L609.24,243.57 L609.43,242.39 L609.62,243.76 L609.80,246.24 L609.99,246.70 L610.18,246.70 L610.37,247.24 L610.55,242.91 L610.74,244.48 L610.93,245.87 L611.12,246.72 L611.30,246.50 L611.49,246.16 L611.68,246.31 L611.87,248.67 L612.05,249.08 L612.24,251.96 L612.43,248.91 L612.62,248.81 L612.80,249.97 L612.99,250.99 L613.18,249.57 L613.36,249.76 L613.55,252.38 L613.74,251.04 L613.93,250.48 L614.11,249.55 L614.30,249.30 L614.49,250.82 L614.68,252.20 L614.86,249.52 L615.05,252.06 L615.24,251.49 L615.43,250.95 L615.61,253.75 L615.80,253.94 L615.99,252.00 L616.18,251.11 L616.36,250.20 L616.55,248.39 L616.74,247.96 L616.93,249.32 L617.11,249.72 L617.30,247.32 L617.49,251.16 L617.67,249.09 L617.86,248.53 L618.05,248.34 L618.24,249.45 L618.42,248.68 L618.61,249.58 L618.80,252.87 L618.99,253.13 L619.17,251.59 L619.36,252.30 L619.55,251.17 L619.74,250.77 L619.92,251.67 L620.11,252.69 L620.30,253.00 L620.49,254.86 L620.67,255.17 L620.86,253.76 L621.05,255.48 L621.24,255.82 L621.42,258.56 L621.61,258.88 L621.80,260.74 L621.98,262.29 L622.17,259.62 L622.36,258.48 L622.55,257.98 L622.73,260.80 L622.92,259.22 L623.11,261.52 L623.30,263.69 L623.48,264.80 L623.67,265.93 L623.86,265.69 L624.05,265.71 L624.23,265.47 L624.42,265.59 L624.61,266.35 L624.80,266.12 L624.98,265.22 L625.17,264.57 L625.36,265.29 L625.55,263.59 L625.73,262.57 L625.92,262.70 L626.11,262.45 L626.29,262.77 L626.48,260.47 L626.67,261.10 L626.86,261.64 L627.04,263.37 L627.23,261.16 L627.42,261.32 L627.61,262.13 L627.79,262.96 L627.98,264.81 L628.17,266.37 L628.36,264.93 L628.54,265.83 L628.73,265.53 L628.92,264.77 L629.11,267.15 L629.29,266.73 L629.48,265.72 L629.67,265.33 L629.86,264.39 L630.04,265.69 L630.23,266.41 L630.42,268.46 L630.60,269.12 L630.79,268.38 L630.98,269.40 L631.17,268.13 L631.35,267.11 L631.54,266.65 L631.73,266.66 L631.92,268.25 L632.10,267.62 L632.29,268.13 L632.48,268.04 L632.67,266.25 L632.85,264.66 L633.04,264.43 L633.23,264.91 L633.42,265.75 L633.60,267.14 L633.79,267.85 L633.98,267.93 L634.17,269.21 L634.35,268.74 L634.54,267.93 L634.73,268.51 L634.91,267.76 L635.10,268.20 L635.29,268.59 L635.48,269.10 L635.66,270.41 L635.85,271.04 L636.04,272.32 L636.23,272.01 L636.41,273.92 L636.60,274.75 L636.79,277.20 L636.98,275.58 L637.16,275.96 L637.35,276.73 L637.54,274.22 L637.73,274.12 L637.91,274.75 L638.10,274.99 L638.29,273.17 L638.47,273.51 L638.66,273.53 L638.85,272.04 L639.04,272.71 L639.22,272.26 L639.41,271.69 L639.60,270.80 L639.79,271.23 L639.97,270.87 L640.16,271.96 L640.35,272.13 L640.54,270.88 L640.72,270.09 L640.91,271.11 L641.10,270.47 L641.29,270.91 L641.47,271.56 L641.66,271.33 L641.85,268.25 L642.04,268.81 L642.22,269.51 L642.41,270.24 L642.60,269.83 L642.78,272.05 L642.97,272.40 L643.16,271.90 L643.35,271.16 L643.53,271.68 L643.72,270.12 L643.91,268.75 L644.10,271.36 L644.28,273.01 L644.47,274.10 L644.66,275.57 L644.85,276.16 L645.03,273.68 L645.22,274.84 L645.41,276.26 L645.60,276.85 L645.78,274.51 L645.97,276.17 L646.16,277.66 L646.35,277.02 L646.53,277.01 L646.72,277.75 L646.91,277.40 L647.09,278.73 L647.28,278.63 L647.47,279.18 L647.66,278.87 L647.84,276.64 L648.03,274.71 L648.22,277.36 L648.41,276.61 L648.59,277.19 L648.78,277.79 L648.97,278.96 L649.16,278.50 L649.34,277.22 L649.53,276.70 L649.72,273.82 L649.91,272.91 L650.09,273.55 L650.28,270.45 L650.47,270.48 L650.66,271.46 L650.84,272.81 L651.03,270.99 L651.22,269.76 L651.40,266.49 L651.59,264.29 L651.78,264.31 L651.97,265.97 L652.15,263.46 L652.34,264.31 L652.53,263.63 L652.72,261.26 L652.90,262.49 L653.09,257.04 L653.28,254.87 L653.47,253.29 L653.65,254.63 L653.84,255.38 L654.03,257.06 L654.22,255.32 L654.40,254.87 L654.59,255.19 L654.78,254.27 L654.97,253.68 L655.15,253.35 L655.34,252.68 L655.53,250.91 L655.71,254.06 L655.90,253.45 L656.09,250.46 L656.28,250.98 L656.46,251.11 L656.65,250.77 L656.84,253.08 L657.03,252.43 L657.21,250.81 L657.40,248.42 L657.59,247.25 L657.78,245.18 L657.96,244.24 L658.15,248.15 L658.34,247.78 L658.53,245.25 L658.71,246.96 L658.90,246.74 L659.09,246.34 L659.28,246.03 L659.46,246.01 L659.65,245.64 L659.84,246.81 L660.02,247.45 L660.21,249.42 L660.40,248.66 L660.59,248.73 L660.77,247.42 L660.96,248.73 L661.15,250.14 L661.34,249.78 L661.52,250.85 L661.71,255.19 L661.90,257.41 L662.09,256.15 L662.27,256.48 L662.46,257.95 L662.65,258.44 L662.84,259.89 L663.02,262.59 L663.21,263.37 L663.40,261.88 L663.59,263.15 L663.77,263.33 L663.96,263.98 L664.15,264.19 L664.33,263.15 L664.52,262.31 L664.71,262.90 L664.90,262.41 L665.08,259.69 L665.27,261.75 L665.46,260.53 L665.65,259.67 L665.83,260.61 L666.02,257.20 L666.21,258.75 L666.40,257.44 L666.58,258.27 L666.77,257.56 L666.96,258.34 L667.15,258.37 L667.33,258.49 L667.52,255.79 L667.71,253.67 L667.90,253.50 L668.08,255.36 L668.27,254.57 L668.46,255.33 L668.64,255.33 L668.83,255.75 L669.02,257.50 L669.21,255.89 L669.39,256.95 L669.58,257.56 L669.77,257.67 L669.96,256.83 L670.14,256.22 L670.33,254.98 L670.52,253.89 L670.71,258.36 L670.89,261.83 L671.08,262.76 L671.27,264.43 L671.46,263.55 L671.64,260.14 L671.83,258.45 L672.02,259.71 L672.21,262.87 L672.39,264.09 L672.58,263.91 L672.77,264.52 L672.95,263.98 L673.14,263.04 L673.33,263.83 L673.52,264.22 L673.70,263.95 L673.89,263.28 L674.08,262.62 L674.27,263.35 L674.45,265.08 L674.64,264.46 L674.83,267.08 L675.02,264.25 L675.20,263.75 L675.39,261.37 L675.58,260.69 L675.77,260.37 L675.95,260.95 L676.14,262.26 L676.33,261.25 L676.52,258.89 L676.70,258.18 L676.89,258.13 L677.08,256.59 L677.26,257.74 L677.45,259.93 L677.64,257.52 L677.83,257.84 L678.01,258.98 L678.20,255.96 L678.39,256.42 L678.58,256.41 L678.76,254.39 L678.95,256.29 L679.14,256.65 L679.33,255.70 L679.51,256.27 L679.70,257.15 L679.89,258.01 L680.08,259.13 L680.26,259.75 L680.45,258.08 L680.64,257.74 L680.83,258.51 L681.01,255.18 L681.20,258.98 L681.39,259.29 L681.57,258.53 L681.76,256.73 L681.95,258.02 L682.14,258.65 L682.32,258.76 L682.51,258.97 L682.70,258.39 L682.89,257.64 L683.07,257.67 L683.26,256.76 L683.45,257.59 L683.64,257.16 L683.82,257.03 L684.01,257.30 L684.20,258.84 L684.39,259.25 L684.57,259.19 L684.76,258.59 L684.95,257.25 L685.14,256.91 L685.32,258.48 L685.51,259.32 L685.70,259.27 L685.88,258.02 L686.07,256.41 L686.26,257.39 L686.45,259.57 L686.63,260.80 L686.82,259.52 L687.01,259.83 L687.20,260.72 L687.38,259.93 L687.57,260.56 L687.76,260.53 L687.95,259.55 L688.13,257.85 L688.32,259.02 L688.51,259.47 L688.70,257.98 L688.88,256.32 L689.07,257.41 L689.26,257.78 L689.45,256.99 L689.63,258.93 L689.82,258.00 L690.01,255.92 L690.19,257.24 L690.38,256.80 L690.57,256.92 L690.76,256.93 L690.94,255.20 L691.13,253.01 L691.32,252.58 L691.51,254.45 L691.69,252.73 L691.88,254.65 L692.07,255.08 L692.26,253.43 L692.44,253.96 L692.63,255.07 L692.82,254.12 L693.01,251.52 L693.19,252.78 L693.38,251.90 L693.57,253.41 L693.76,252.27 L693.94,253.90 L694.13,254.41 L694.32,253.96 L694.50,255.41 L694.69,257.44 L694.88,258.09 L695.07,257.62 L695.25,259.25 L695.44,257.96 L695.63,259.82 L695.82,261.62 L696.00,265.12 L696.19,267.19 L696.38,266.38 L696.57,265.16 L696.75,263.82 L696.94,260.47 L697.13,261.14 L697.32,260.77 L697.50,259.22 L697.69,256.21 L697.88,257.30 L698.07,257.23 L698.25,254.93 L698.44,255.47 L698.63,257.61 L698.81,256.41 L699.00,256.00 L699.19,254.48 L699.38,252.38 L699.56,252.91 L699.75,256.55 L699.94,256.59 L700.13,256.77 L700.31,258.38 L700.50,258.33 L700.69,259.80 L700.88,261.74 L701.06,260.98 L701.25,260.33 L701.44,261.28 L701.63,263.55 L701.81,265.13 L702.00,268.02 L702.19,267.50 L702.37,269.29 L702.56,269.79 L702.75,270.06 L702.94,270.42 L703.12,269.37 L703.31,269.06 L703.50,267.72 L703.69,267.96 L703.87,266.89 L704.06,266.20 L704.25,266.26 L704.44,265.34 L704.62,266.61 L704.81,265.77 L705.00,266.74 L705.19,266.97 L705.37,265.37 L705.56,264.77 L705.75,263.35 L705.94,262.40 L706.12,261.81 L706.31,264.11 L706.50,263.44 L706.68,265.45 L706.87,266.21 L707.06,264.64 L707.25,261.74 L707.43,262.82 L707.62,260.54 L707.81,261.79 L708.00,263.52 L708.18,264.29 L708.37,264.00 L708.56,263.60 L708.75,263.68 L708.93,263.10 L709.12,262.47 L709.31,262.18 L709.50,263.95 L709.68,263.47 L709.87,264.20 L710.06,262.93 L710.25,262.21 L710.43,260.54 L710.62,260.53 L710.81,261.51 L710.99,262.03 L711.18,261.35 L711.37,262.08 L711.56,261.56 L711.74,261.85 L711.93,262.11 L712.12,262.48 L712.31,258.96 L712.49,257.07 L712.68,257.63 L712.87,257.04 L713.06,259.29 L713.24,258.35 L713.43,256.72 L713.62,256.37 L713.81,254.32 L713.99,254.14 L714.18,252.46 L714.37,249.78 L714.56,248.24 L714.74,245.54 L714.93,243.57 L715.12,241.75 L715.30,240.36 L715.49,240.79 L715.68,239.49 L715.87,239.78 L716.05,239.86 L716.24,241.79 L716.43,238.24 L716.62,238.42 L716.80,238.97 L716.99,237.62 L717.18,239.33 L717.37,240.12 L717.55,242.13 L717.74,243.70 L717.93,244.79 L718.12,244.58 L718.30,242.20 L718.49,241.31 L718.68,240.09 L718.87,240.09 L719.05,239.16 L719.24,243.28 L719.43,240.39 L719.61,241.73 L719.80,240.59 L719.99,239.92 L720.18,241.19 L720.36,241.48 L720.55,239.89 L720.74,240.97 L720.93,241.02 L721.11,238.22 L721.30,238.95 L721.49,237.52 L721.68,236.32 L721.86,237.10 L722.05,237.69 L722.24,237.51 L722.43,241.31 L722.61,242.58 L722.80,242.39 L722.99,243.25 L723.18,243.65 L723.36,240.99 L723.55,239.63 L723.74,238.47 L723.92,242.27 L724.11,242.59 L724.30,242.65 L724.49,241.67 L724.67,242.73 L724.86,242.18 L725.05,244.37 L725.24,245.24 L725.42,247.52 L725.61,247.27 L725.80,247.98 L725.99,247.63 L726.17,247.72 L726.36,245.66 L726.55,245.29 L726.74,243.96 L726.92,242.85 L727.11,244.22 L727.30,244.28 L727.49,245.39 L727.67,245.95 L727.86,246.54 L728.05,247.02 L728.23,245.06 L728.42,245.29 L728.61,243.83 L728.80,242.08 L728.98,243.03 L729.17,245.24 L729.36,242.76 L729.55,244.27 L729.73,244.47 L729.92,242.33 L730.11,241.98 L730.30,241.94 L730.48,241.68 L730.67,240.48 L730.86,237.86 L731.05,237.20 L731.23,237.83 L731.42,238.72 L731.61,239.55 L731.80,240.97 L731.98,239.02 L732.17,238.48 L732.36,238.34 L732.54,239.58 L732.73,239.65 L732.92,240.08 L733.11,239.78 L733.29,242.62 L733.48,239.16 L733.67,239.10 L733.86,242.65 L734.04,242.93 L734.23,239.93 L734.42,240.06 L734.61,237.48 L734.79,235.88 L734.98,235.92 L735.17,238.34 L735.36,238.66 L735.54,239.26 L735.73,240.23 L735.92,239.96 L736.11,238.00 L736.29,237.61 L736.48,238.09 L736.67,237.75 L736.85,237.01 L737.04,236.75 L737.23,234.44 L737.42,232.79 L737.60,232.62 L737.79,232.17 L737.98,232.38 L738.17,234.61 L738.35,235.26 L738.54,235.25 L738.73,233.60 L738.92,232.03 L739.10,232.73 L739.29,231.55 L739.48,232.49 L739.67,231.14 L739.85,231.47 L740.04,231.31 L740.23,232.64 L740.42,231.72 L740.60,230.96 L740.79,230.99 L740.98,230.67 L741.16,232.87 L741.35,232.06 L741.54,230.96 L741.73,229.79 L741.91,229.64 L742.10,229.12 L742.29,229.74 L742.48,227.02 L742.66,230.27 L742.85,232.79 L743.04,232.92 L743.23,231.62 L743.41,232.50 L743.60,233.40 L743.79,230.36 L743.98,231.32 L744.16,229.76 L744.35,230.91 L744.54,233.55 L744.73,235.63 L744.91,233.29 L745.10,235.27 L745.29,236.31 L745.47,235.57 L745.66,236.18 L745.85,238.75 L746.04,238.13 L746.22,238.30 L746.41,237.66 L746.60,239.77 L746.79,237.12 L746.97,239.66 L747.16,238.46 L747.35,240.30 L747.54,238.16 L747.72,237.30 L747.91,236.49 L748.10,238.05 L748.29,235.73 L748.47,236.90 L748.66,235.75 L748.85,237.34 L749.04,236.51 L749.22,236.76 L749.41,235.79 L749.60,237.78 L749.78,236.53 L749.97,235.93 L750.16,238.63 L750.35,238.51 L750.53,239.37 L750.72,238.53 L750.91,239.26 L751.10,236.09 L751.28,236.72 L751.47,236.37 L751.66,234.44 L751.85,232.64 L752.03,234.80 L752.22,235.53 L752.41,233.47 L752.60,236.63 L752.78,235.86 L752.97,235.22 L753.16,235.55 L753.35,234.03 L753.53,231.39 L753.72,230.34 L753.91,232.17 L754.09,233.58 L754.28,231.05 L754.47,232.82 L754.66,232.67 L754.84,233.24 L755.03,233.33 L755.22,234.04 L755.41,232.49 L755.59,231.02 L755.78,229.96 L755.97,229.59 L756.16,230.93 L756.34,229.45 L756.53,232.28 L756.72,231.64 L756.91,231.12 L757.09,232.79 L757.28,233.96 L757.47,233.60 L757.66,232.06 L757.84,230.47 L758.03,227.83 L758.22,229.44 L758.40,230.91 L758.59,233.61 L758.78,233.98 L758.97,233.65 L759.15,233.99 L759.34,234.98 L759.53,234.40 L759.72,234.91 L759.90,238.10 L760.09,235.46 L760.28,233.29 L760.47,231.94 L760.65,233.14 L760.84,235.26 L761.03,235.39 L761.22,236.83 L761.40,236.82 L761.59,236.90 L761.78,236.07 L761.97,236.10 L762.15,236.12 L762.34,237.81 L762.53,240.98 L762.71,238.04 L762.90,238.43 L763.09,237.80 L763.28,238.47 L763.46,239.21 L763.65,239.67 L763.84,240.07 L764.03,237.71 L764.21,234.12 L764.40,236.08 L764.59,237.38 L764.78,235.65 L764.96,237.28 L765.15,237.92 L765.34,233.67 L765.53,235.03 L765.71,233.69 L765.90,235.39 L766.09,234.52 L766.27,233.91 L766.46,231.41 L766.65,230.82 L766.84,231.93 L767.02,230.64 L767.21,227.56 L767.40,230.88 L767.59,233.44 L767.77,234.06 L767.96,233.04 L768.15,230.86 L768.34,227.78 L768.52,228.51 L768.71,230.61 L768.90,228.77 L769.09,228.62 L769.27,227.73 L769.46,226.48 L769.65,226.56 L769.84,229.40 L770.02,228.26 L770.21,229.51 L770.40,231.18 L770.58,230.72 L770.77,230.54 L770.96,228.90 L771.15,231.14 L771.33,231.01 L771.52,230.62 L771.71,231.37 L771.90,230.49 L772.08,229.27 L772.27,229.66 L772.46,232.50 L772.65,232.66 L772.83,234.19 L773.02,232.50 L773.21,229.83 L773.40,233.23 L773.58,233.51 L773.77,231.95 L773.96,232.81 L774.15,234.44 L774.33,232.04 L774.52,231.15 L774.71,232.03 L774.89,230.88 L775.08,232.45 L775.27,234.39 L775.46,235.23 L775.64,234.64 L775.83,234.55 L776.02,233.06 L776.21,232.28 L776.39,232.09 L776.58,230.88 L776.77,231.50 L776.96,234.67 L777.14,232.94 L777.33,232.43 L777.52,232.63 L777.71,232.43 L777.89,231.10 L778.08,229.67 L778.27,230.38 L778.46,230.61 L778.64,230.74 L778.83,228.59 L779.02,228.94 L779.20,229.40 L779.39,228.61 L779.58,229.43 L779.77,232.81 L779.95,229.52 L780.14,230.28 L780.33,228.48 L780.52,226.55 L780.70,226.61 L780.89,228.45 L781.08,229.57 L781.27,229.03 L781.45,227.63 L781.64,227.57 L781.83,228.41 L782.02,228.07 L782.20,226.74 L782.39,230.43 L782.58,229.82 L782.77,230.13 L782.95,229.99 L783.14,229.92 L783.33,230.47 L783.51,230.75 L783.70,232.25 L783.89,230.71 L784.08,228.56 L784.26,231.70 L784.45,231.90 L784.64,233.59 L784.83,235.86 L785.01,236.89 L785.20,236.84 L785.39,234.84 L785.58,233.00 L785.76,235.37 L785.95,237.60 L786.14,239.72 L786.33,238.58 L786.51,236.29 L786.70,235.51 L786.89,234.75 L787.08,236.00 L787.26,235.50 L787.45,238.82 L787.64,238.41 L787.82,237.57 L788.01,238.81 L788.20,239.31 L788.39,237.97 L788.57,239.69 L788.76,242.88 L788.95,241.19 L789.14,240.96 L789.32,239.47 L789.51,236.85 L789.70,238.17 L789.89,239.94 L790.07,242.31 L790.26,244.28 L790.45,242.40 L790.64,243.23 L790.82,242.94 L791.01,241.96 L791.20,241.47 L791.39,243.62 L791.57,243.81 L791.76,247.24 L791.95,248.59 L792.13,246.19 L792.32,247.79 L792.51,249.99 L792.70,250.68 L792.88,250.05 L793.07,253.82 L793.26,252.95 L793.45,253.55 L793.63,251.27 L793.82,250.05 L794.01,248.07 L794.20,250.11 L794.38,252.30 L794.57,252.44 L794.76,251.04 L794.95,251.19 L795.13,251.72 L795.32,249.69 L795.51,248.52 L795.70,250.17 L795.88,252.71 L796.07,254.47 L796.26,256.79 L796.44,256.68 L796.63,254.73 L796.82,256.61 L797.01,256.77 L797.19,257.99 L797.38,258.86 L797.57,259.97 L797.76,257.92 L797.94,258.74 L798.13,257.83 L798.32,257.63 L798.51,257.31 L798.69,257.53 L798.88,256.75 L799.07,253.18 L799.26,251.18 L799.44,253.03 L799.63,253.25 L799.82,253.57 L800.01,253.78 L800.19,252.01 L800.38,250.04 L800.57,248.10 L800.75,248.68 L800.94,248.36 L801.13,249.88 L801.32,249.47 L801.50,250.79 L801.69,249.98 L801.88,247.03 L802.07,248.25 L802.25,247.83 L802.44,248.86 L802.63,248.86 L802.82,248.20 L803.00,248.29 L803.19,246.75 L803.38,245.10 L803.57,243.78 L803.75,242.77 L803.94,240.50 L804.13,239.97 L804.32,239.91 L804.50,242.20 L804.69,244.13 L804.88,243.31 L805.06,243.68 L805.25,242.60 L805.44,242.40 L805.63,241.89 L805.81,241.01 L806.00,241.10 L806.19,238.89 L806.38,239.64 L806.56,239.28 L806.75,238.29 L806.94,238.27 L807.13,239.80 L807.31,239.27 L807.50,240.47 L807.69,241.57 L807.88,243.95 L808.06,242.24 L808.25,242.27 L808.44,243.20 L808.63,245.26 L808.81,245.52 L809.00,246.43 L809.19,244.04 L809.37,242.97 L809.56,245.46 L809.75,245.22 L809.94,248.53 L810.12,247.48 L810.31,246.87 L810.50,244.11 L810.69,244.79 L810.87,244.91 L811.06,247.74 L811.25,247.69 L811.44,246.83 L811.62,243.96 L811.81,243.10 L812.00,243.71 L812.19,244.25 L812.37,245.72 L812.56,246.47 L812.75,245.85 L812.94,246.30 L813.12,246.20 L813.31,243.96 L813.50,246.19 L813.68,246.40 L813.87,244.92 L814.06,245.55 L814.25,245.85 L814.43,247.13 L814.62,249.53 L814.81,245.45 L815.00,246.64 L815.18,249.23 L815.37,248.43 L815.56,246.51 L815.75,247.84 L815.93,248.74 L816.12,249.45 L816.31,248.25 L816.50,247.92 L816.68,248.60 L816.87,249.94 L817.06,253.38 L817.25,254.24 L817.43,253.85 L817.62,250.87 L817.81,252.92 L817.99,253.38 L818.18,254.13 L818.37,253.66 L818.56,255.33 L818.74,253.25 L818.93,253.90 L819.12,254.44 L819.31,255.41 L819.49,257.84 L819.68,258.72 L819.87,259.64 L820.06,261.58 L820.24,260.37" fill="none" stroke="#ED7D31" stroke-width="4.8" stroke-linejoin="round" stroke-linecap="round"/>
<line x1="366.3" y1="485.3" x2="406.6" y2="485.3" stroke="#ED7D31" stroke-width="4.7" stroke-linecap="round"/>
<text x="410.55" y="490.65" font-size="18.75" fill="#505050" style="font-family:'Liberation Sans','Noto Sans CJK SC',sans-serif">上证指数</text>
</svg></body></html>
